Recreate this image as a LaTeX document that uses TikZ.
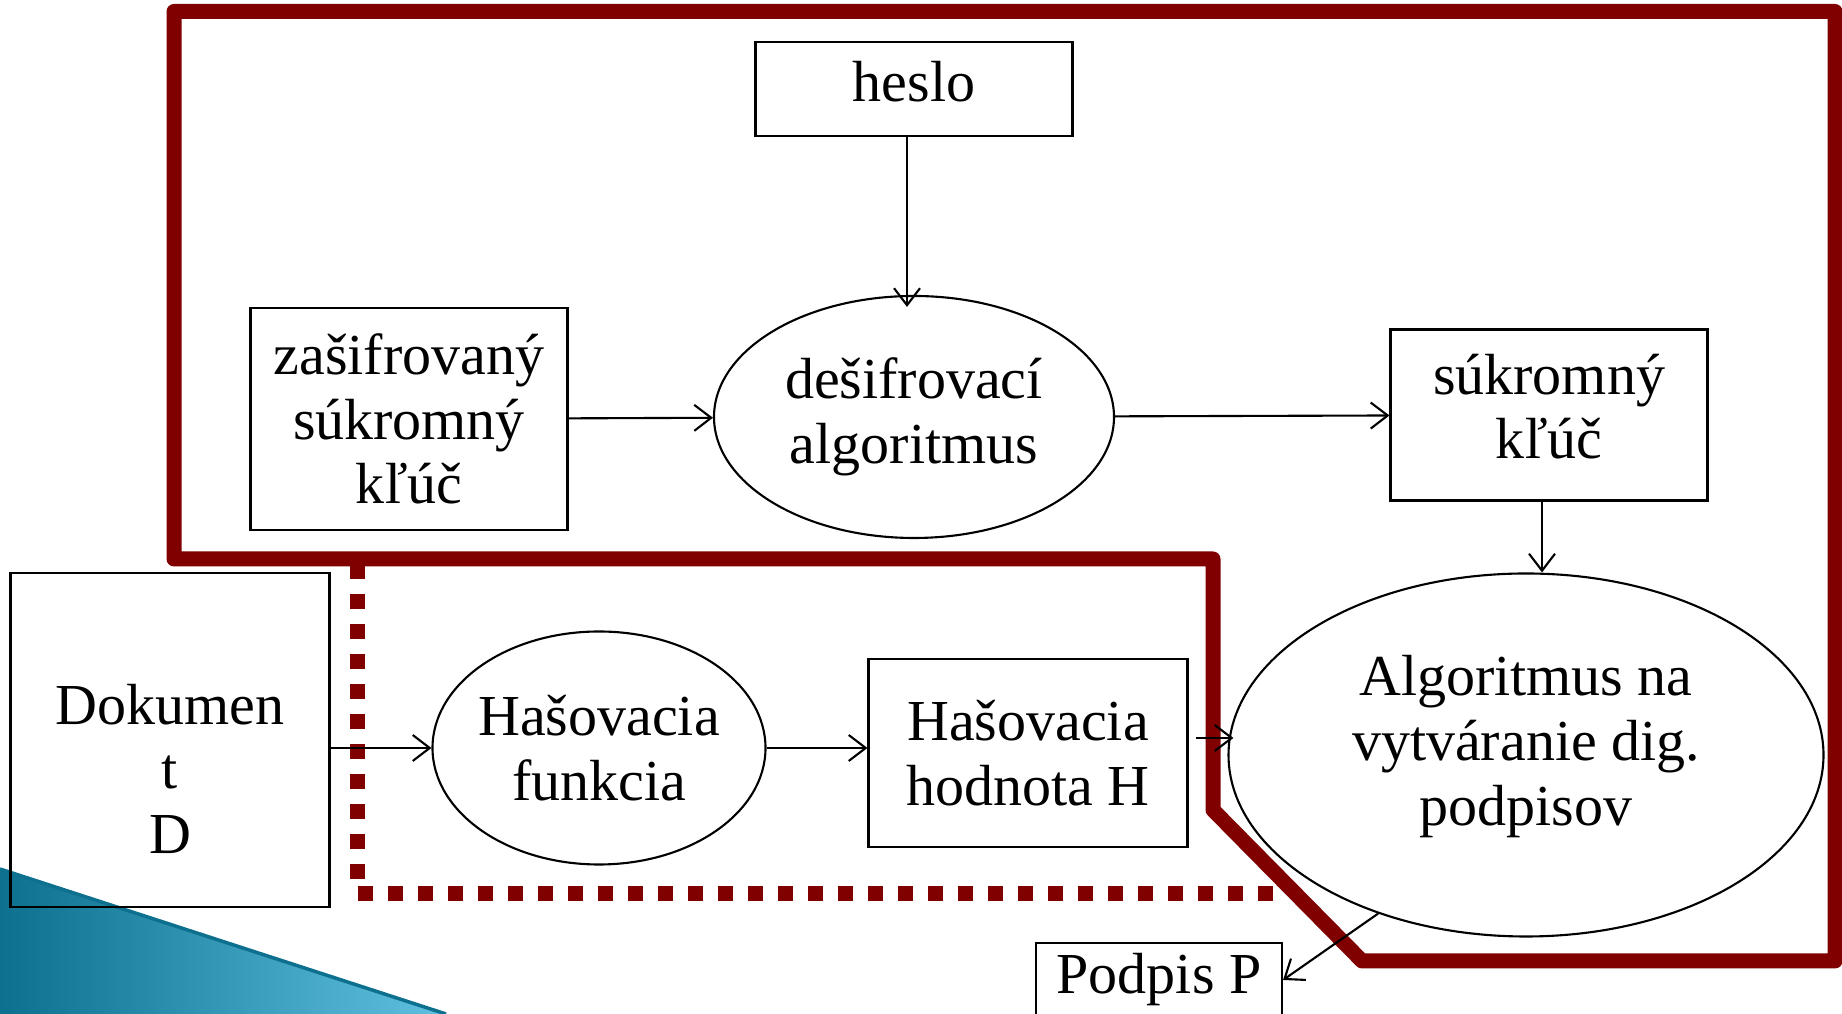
\documentclass[tikz,border=0pt]{standalone}
\usepackage{fontspec}
\setmainfont{Liberation Serif}
\usetikzlibrary{arrows.meta,shapes.geometric}
\definecolor{borderred}{RGB}{128,0,0}
\definecolor{tealdark}{RGB}{12,112,142}
\definecolor{teallight}{RGB}{96,192,224}

\begin{document}
\begin{tikzpicture}[
    box/.style={draw, line width=0.6pt, rectangle, align=center, inner sep=0pt, minimum width=3.17cm},
    oval/.style={draw, line width=0.6pt, ellipse, align=center, inner sep=-2pt},
    arr/.style={line width=0.6pt, -{Straight Barb[length=0.17cm,width=0.26cm]}},
    font=\fontsize{16.5}{18.4}\selectfont
]
    \useasboundingbox (0,0) rectangle (18.42,10.14);

    % Corner decoration
    \shade[left color=tealdark, right color=teallight] (0,0) -- (0,1.45) -- (4.46,0) -- cycle;
    \draw[tealdark, line width=1pt] (0,1.45) -- (4.46,0);

    % Upper part
    \node[box, minimum height=0.94cm, text depth=0.16cm] (heslo) at (9.14,9.25) {heslo};
    \node[box, minimum height=2.22cm] (zasif) at (4.09,5.95) {zašifrovaný\\súkromný\\kľúč};
    \node[oval, minimum width=4.00cm, minimum height=2.42cm] (desifr) at (9.14,5.97) {dešifrovací\\algoritmus};
    \node[box, minimum height=1.71cm, text depth=0.17cm] (sukr) at (15.49,5.99) {súkromný\\kľúč};

    % Lower part
    \node[box, minimum width=3.19cm, minimum height=3.34cm, text height=2.27cm] (dok) at (1.70,2.74) {Dokumen\\t\\D};
    \node[oval, minimum width=3.33cm, minimum height=2.33cm] (hfun) at (5.99,2.66) {Hašovacia\\funkcia};
    \node[box, minimum width=3.19cm, minimum height=1.88cm] (hhod) at (10.28,2.61) {Hašovacia\\hodnota H};
    \node[oval, minimum width=5.95cm, minimum height=3.63cm, text depth=0.29cm] (alg) at (15.26,2.59) {Algoritmus na\\vytváranie dig.\\podpisov};
    \node[box, minimum width=2.46cm, minimum height=0.74cm] (pod) at (11.59,0.34) {Podpis P};

    % Borders
    \draw[borderred, line width=0.15cm, line join=round]
        (1.74,10.025) -- (18.35,10.025) -- (18.35,0.53) -- (13.62,0.53)
        -- (12.13,2.04) -- (12.13,4.55) -- (1.74,4.55) -- cycle;
    \draw[borderred, line width=0.15cm, dash pattern=on 0.15cm off 0.15cm] (3.57,4.50) -- (3.57,1.35);
    \draw[borderred, line width=0.15cm, dash pattern=on 0.15cm off 0.15cm] (3.58,1.205) -- (12.73,1.205);

    % Connections
    \draw[arr] ([xshift=-0.07cm]heslo.south) -- ([xshift=-0.07cm,yshift=-0.12cm]heslo.south |- desifr.north);
    \draw[arr] (zasif) -- (desifr);
    \draw[arr] (desifr) -- (sukr);
    \draw[arr] ([xshift=-0.07cm]sukr.south) -- ([xshift=-0.07cm]sukr.south |- alg.north);
    \draw[arr] (dok.east |- hfun.west) -- (hfun.west);
    \draw[arr] (hfun.east) -- (hfun.east -| hhod.west);
    \draw[arr] ([xshift=0.07cm,yshift=0.15cm]hhod.east) -- ([xshift=0.06cm,yshift=0.17cm]alg.west);
    \draw[arr] (alg.227) -- (pod.east);
\end{tikzpicture}
\end{document}
